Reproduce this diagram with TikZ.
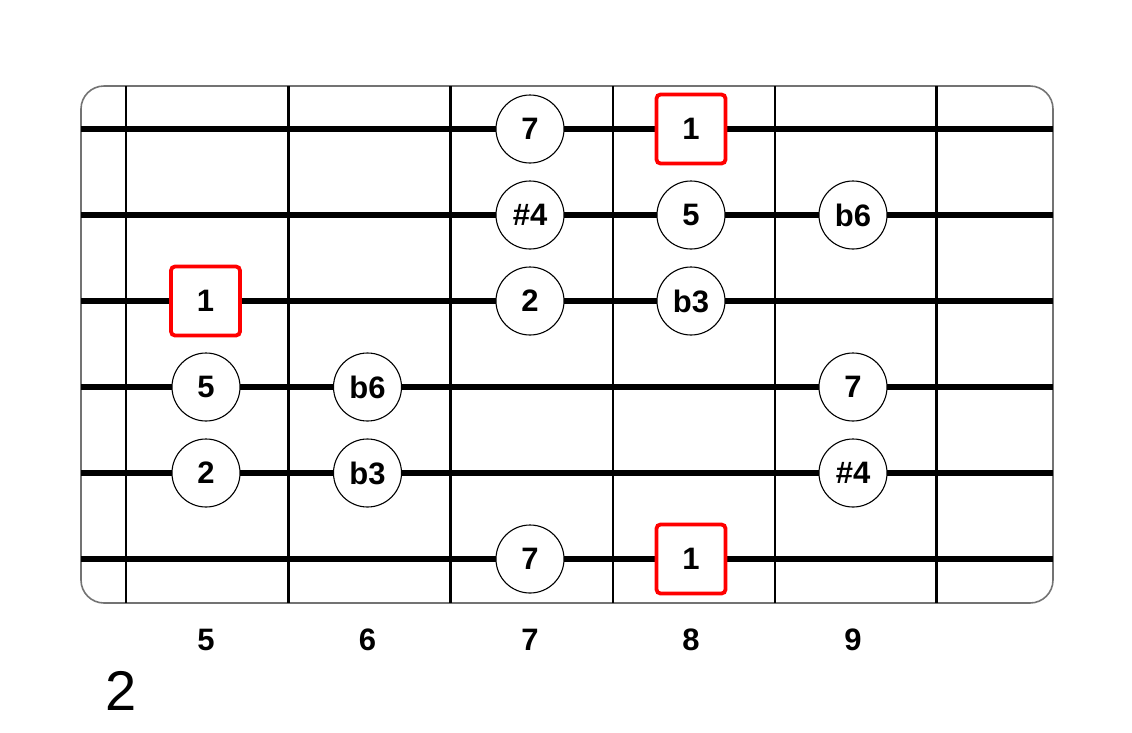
\documentclass[tikz,border=0pt]{standalone}
\usepackage{fontspec}
\setmainfont{Liberation Sans}
\begin{document}
\begin{tikzpicture}[x=1pt,y=-1pt,
  board/.style={draw=black!55,line width=1.6pt,rounded corners=23pt},
  fret/.style={draw=black,line width=2.8pt},
  gstring/.style={draw=black,line width=6.2pt},
  note/.style={circle,draw=black,fill=white,line width=1.1pt,minimum size=68pt,inner sep=0pt,font=\fontsize{31}{36}\selectfont\bfseries},
  root/.style={rectangle,draw=red,fill=white,line width=3.8pt,rounded corners=4pt,minimum size=69pt,inner sep=0pt,font=\fontsize{31}{36}\selectfont\bfseries},
  fretnum/.style={font=\fontsize{31}{36}\selectfont\bfseries,inner sep=0pt},
  title/.style={font=\fontsize{56}{62}\selectfont,inner sep=0pt}]
\useasboundingbox (0,0) rectangle (1132,732);
% board outline
\draw[board] (81,86) rectangle (1053,603);
% frets
\foreach \x [count=\i] in {126,288.5,450.5,613,775,936.5}{
  \coordinate (ft\i) at (\x,86);
  \coordinate (fb\i) at (\x,603);
  \draw[fret] (ft\i) -- (fb\i);
}
% strings
\foreach \y [count=\i] in {129,215,301,387,473,559}{
  \coordinate (sl\i) at (81,\y);
  \coordinate (sr\i) at (1053,\y);
  \draw[gstring] (sl\i) -- (sr\i);
}
% notes
\node[note] (n1a) at (530,129) {7};
\node[root] (n1b) at (691,129) {1};
\node[note] (n2a) at (530,215) {\#4};
\node[note] (n2b) at (691,215) {5};
\node[note] (n2c) at (853,215) {b6};
\node[root] (n3a) at (205.5,301) {1};
\node[note] (n3b) at (530,301) {2};
\node[note] (n3c) at (691,301) {b3};
\node[note] (n4a) at (206,387) {5};
\node[note] (n4b) at (367.5,387) {b6};
\node[note] (n4c) at (853,387) {7};
\node[note] (n5a) at (206,473) {2};
\node[note] (n5b) at (367.5,473) {b3};
\node[note] (n5c) at (853,473) {\#4};
\node[note] (n6a) at (530,559) {7};
\node[root] (n6b) at (691,559) {1};
% fret numbers
\node[fretnum] (f5) at (206,640) {5};
\node[fretnum] (f6) at (367.5,640) {6};
\node[fretnum] (f7) at (530,640) {7};
\node[fretnum] (f8) at (691,640) {8};
\node[fretnum] (f9) at (853,640) {9};
% title
\node[title] (t) at (121,691) {2};
\end{tikzpicture}
\end{document}
